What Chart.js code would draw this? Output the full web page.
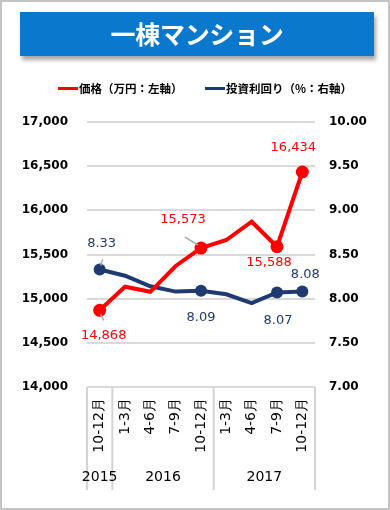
<!DOCTYPE html>
<html><head><meta charset="utf-8">
<script src="https://cdn.jsdelivr.net/npm/chart.js@4"></script>
<style>
html,body{margin:0;padding:0;background:#fff;}
#wrap{position:relative;width:390px;height:510px;overflow:hidden;background:#fff;}
#frame{position:absolute;left:0;top:0;width:390px;height:510px;box-sizing:border-box;border:2px solid #c4c4c4;pointer-events:none;z-index:5;}
#title{position:absolute;left:20px;top:12px;width:354px;height:44px;background:#0A78CD;color:#fff;font:bold 25px "Noto Sans CJK JP",sans-serif;text-align:center;line-height:43px;box-shadow:2px 4px 4px rgba(0,0,0,0.35);z-index:3;letter-spacing:-0.3px;}
#legend{position:absolute;top:78px;left:0;width:390px;height:20px;font:bold 11.5px "Noto Sans CJK JP",sans-serif;color:#000;z-index:3;}
.li{position:absolute;top:0;line-height:20px;white-space:nowrap;}
.sw{display:inline-block;width:20px;height:3px;vertical-align:middle;margin-right:1px;position:relative;top:-1px;}
canvas{position:absolute;left:0;top:0;}
</style></head>
<body>
<div id="wrap">
<div id="frame"></div>
<div id="title">一棟マンション</div>
<div id="legend">
 <span class="li" style="left:58px"><span class="sw" style="background:#ff0000"></span>価格（万円：左軸）</span>
 <span class="li" style="left:205px"><span class="sw" style="background:#1f3a70"></span>投資利回り（%：右軸）</span>
</div>
<canvas id="c" width="390" height="510"></canvas>
</div>
<script>
// ---- data ----
const categories = ['10-12月','1-3月','4-6月','7-9月','10-12月','1-3月','4-6月','7-9月','10-12月'];
const yearLabels = ['2015','2016','2017'];
const yearStartIdx = [0,1,5];
const yearEndIdx = [0,4,8];
const priceValues = [14868, 15135, 15078, 15370, 15573, 15664, 15871, 15588, 16434];
const yieldValues = [8.33, 8.26, 8.14, 8.08, 8.09, 8.05, 7.95, 8.07, 8.08];
const priceTicks = [14000, 14500, 15000, 15500, 16000, 16500, 17000];
const yieldTicks = [7.00, 7.50, 8.00, 8.50, 9.00, 9.50, 10.00];
const labeledIdx = [0, 4, 7, 8];

const RED = '#ff0000', NAVY = '#1f3a70';
const numFont = '"DejaVu Sans", Verdana, sans-serif';

// label offsets (style): [dx, dy] relative to point
const priceLabelOff = {0:[4,25],4:[-18,-28],7:[-8,16],8:[-9,-24]};
const yieldLabelOff = {0:[2,-26],4:[0,27],7:[1,28],8:[3,-17]};
const priceLeader = {0:[[1,4],[4,10]],4:[[-3,-3],[-16,-11]]};
const yieldLeader = {0:[[1,-4],[3,-10]]};

const fmtPrice = v => v.toLocaleString('en-US');
const fmtYield = v => v.toFixed(2);

const customPlugin = {
  id:'custom',
  afterDatasetsDraw(chart){
    const ctx = chart.ctx;
    const x = chart.scales.x;
    const top = chart.chartArea.bottom;
    const bottom = 490;
    ctx.save();
    // separators
    ctx.strokeStyle = '#d4d4d4';
    ctx.lineWidth = 2;
    const step = x.getPixelForValue(1)-x.getPixelForValue(0);
    const bounds = [x.getPixelForValue(0) - step/2];
    yearEndIdx.forEach(e => bounds.push(x.getPixelForValue(e) + step/2));
    bounds.forEach(bx => {
      ctx.beginPath(); ctx.moveTo(bx, top); ctx.lineTo(bx, bottom); ctx.stroke();
    });
    // category labels rotated
    ctx.fillStyle = '#000';
    ctx.font = '14px ' + numFont;
    categories.forEach((c,i) => {
      const px = x.getPixelForValue(i);
      ctx.save();
      ctx.translate(px, top + 11);
      ctx.rotate(-Math.PI/2);
      ctx.textAlign = 'right';
      ctx.textBaseline = 'middle';
      ctx.fillText(c, 0, 0);
      ctx.restore();
    });
    // year labels
    ctx.font = '14px ' + numFont;
    ctx.textAlign = 'center';
    ctx.textBaseline = 'middle';
    yearLabels.forEach((y,k) => {
      const cx = (x.getPixelForValue(yearStartIdx[k]) + x.getPixelForValue(yearEndIdx[k]))/2;
      ctx.fillText(y, cx, 477);
    });
    // data labels
    const drawLabels = (dsIndex, values, fmt, off, leader, color) => {
      const meta = chart.getDatasetMeta(dsIndex);
      labeledIdx.forEach(i => {
        const pt = meta.data[i];
        if (leader[i]) {
          ctx.strokeStyle = '#a6a6a6'; ctx.lineWidth = 1.5;
          ctx.beginPath();
          ctx.moveTo(pt.x + leader[i][0][0], pt.y + leader[i][0][1]);
          ctx.lineTo(pt.x + leader[i][1][0], pt.y + leader[i][1][1]);
          ctx.stroke();
        }
        ctx.fillStyle = color;
        ctx.font = '13px ' + numFont;
        ctx.textAlign = 'center'; ctx.textBaseline = 'middle';
        ctx.fillText(fmt(values[i]), pt.x + off[i][0], pt.y + off[i][1]);
      });
    };
    drawLabels(0, priceValues, fmtPrice, priceLabelOff, priceLeader, RED);
    drawLabels(1, yieldValues, fmtYield, yieldLabelOff, yieldLeader, NAVY);
    ctx.restore();
  }
};

const radiusFn = r => ctx => labeledIdx.includes(ctx.dataIndex) ? r : 0;

new Chart(document.getElementById('c'), {
  type:'line',
  data:{
    labels: categories,
    datasets:[
      {label:'価格（万円：左軸）', data: priceValues, yAxisID:'y', borderColor:RED, backgroundColor:RED,
       borderWidth:4, tension:0, pointRadius:radiusFn(6.5), pointHoverRadius:radiusFn(6.5), pointBorderWidth:0, order:1},
      {label:'投資利回り（%：右軸）', data: yieldValues, yAxisID:'y1', borderColor:NAVY, backgroundColor:NAVY,
       borderWidth:4, tension:0, pointRadius:radiusFn(6), pointHoverRadius:radiusFn(6), pointBorderWidth:0, order:2}
    ]
  },
  options:{
    responsive:false, animation:false,
    layout:{padding:{top:122, left:0, right:0, bottom:0}},
    plugins:{legend:{display:false}, tooltip:{enabled:false}},
    scales:{
      x:{type:'category', offset:true, ticks:{display:false}, grid:{display:false}, border:{display:false},
         afterFit: s => { s.height = 123; }},
      y:{position:'left', min:14000, max:17000,
         afterBuildTicks: s => { s.ticks = priceTicks.map(v => ({value:v})); },
         ticks:{callback: v => fmtPrice(v), font:{family:numFont, size:12, weight:'bold'}, color:'#000', padding:19},
         grid:{color:'#d9d9d9', lineWidth:2, drawTicks:false}, border:{display:false},
         afterFit: s => { s.width = 87; }},
      y1:{position:'right', min:7, max:10,
         afterBuildTicks: s => { s.ticks = yieldTicks.map(v => ({value:v})); },
         ticks:{callback: v => fmtYield(v), font:{family:numFont, size:12, weight:'bold'}, color:'#000', padding:14},
         grid:{display:false, drawTicks:false}, border:{display:false},
         afterFit: s => { s.width = 75; }}
    }
  },
  plugins:[customPlugin]
});
</script>
</body></html>
